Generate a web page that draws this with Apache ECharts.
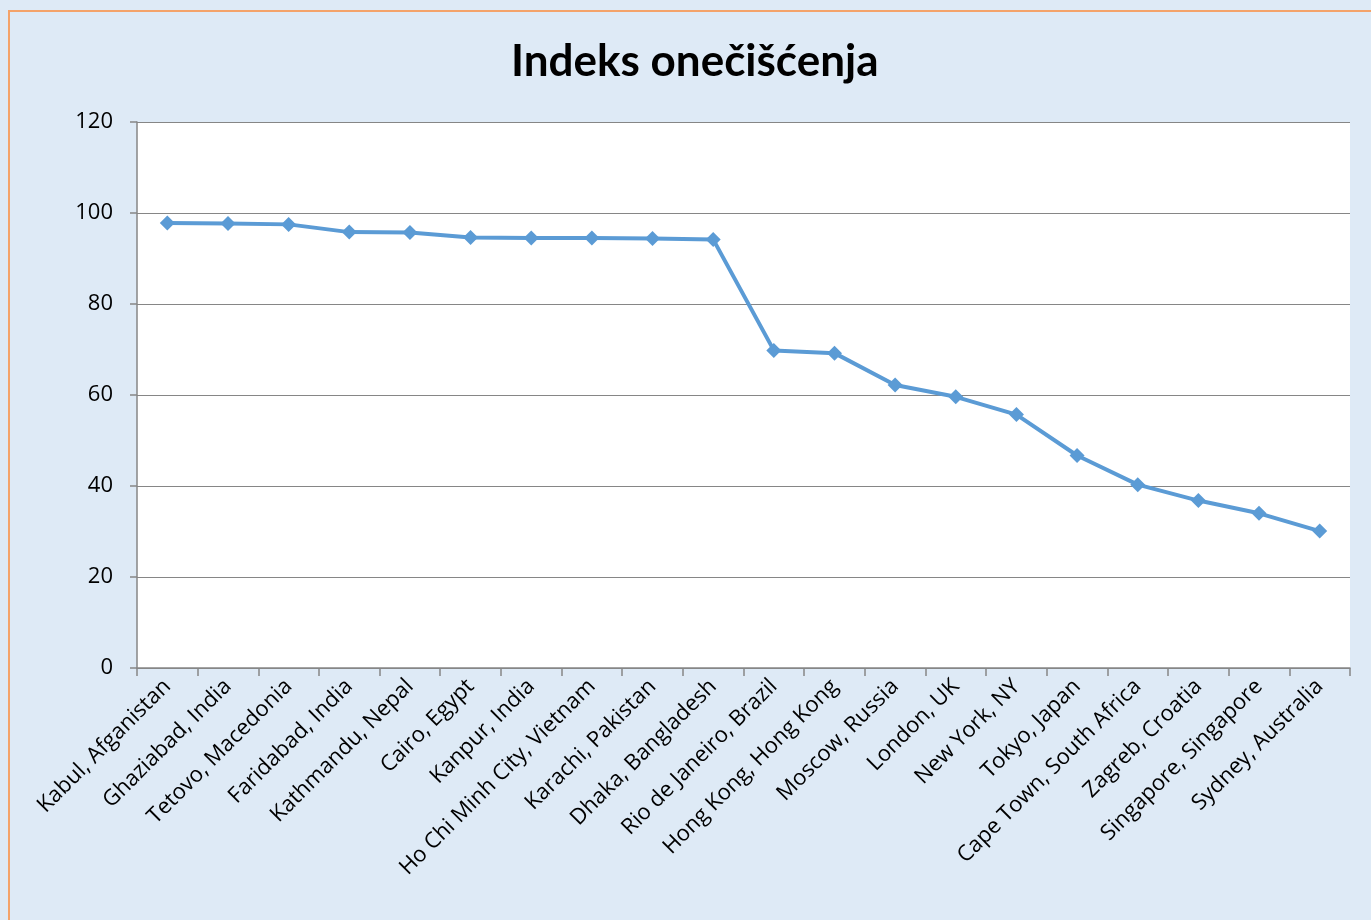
<!DOCTYPE html>
<html><head><meta charset="utf-8">
<script src="https://cdn.jsdelivr.net/npm/echarts@6/dist/echarts.min.js"></script>
<style>
html,body{margin:0;padding:0;background:#DEEAF6;width:1371px;height:920px;overflow:hidden;}
#frame{position:absolute;left:8px;top:10px;width:1380px;height:930px;border:2px solid #F4A36A;box-sizing:border-box;}
#c{position:absolute;left:0;top:0;width:1371px;height:920px;}
</style></head>
<body>
<div id="frame"></div>
<div id="c"></div>
<script>
const titleText = 'Indeks onečišćenja';
const categories = ['Kabul, Afganistan','Ghaziabad, India','Tetovo, Macedonia','Faridabad, India','Kathmandu, Nepal','Cairo, Egypt','Kanpur, India','Ho Chi Minh City, Vietnam','Karachi, Pakistan','Dhaka, Bangladesh','Rio de Janeiro, Brazil','Hong Kong, Hong Kong','Moscow, Russia','London, UK','New York, NY','Tokyo, Japan','Cape Town, South Africa','Zagreb, Croatia','Singapore, Singapore','Sydney, Australia'];
const values = [97.8,97.7,97.5,95.8,95.7,94.6,94.5,94.5,94.4,94.2,69.8,69.2,62.2,59.6,55.7,46.7,40.3,36.8,34.0,30.1];
const yMin = 0, yMax = 120, yStep = 20;

const chart = echarts.init(document.getElementById('c'), null, {renderer:'canvas'});
chart.setOption({
  animation:false,
  backgroundColor:'transparent',
  title:{text:titleText,left:506,top:35,textStyle:{fontFamily:'Lato',fontWeight:'bold',fontSize:44,color:'#000'}},
  grid:{left:137,top:122,right:21,bottom:252,show:true,backgroundColor:'#fff',borderWidth:0,containLabel:false},
  xAxis:{type:'category',data:categories,boundaryGap:true,
    axisLine:{lineStyle:{color:'#868686',width:1.5}},
    axisTick:{show:true,length:8,alignWithLabel:false,lineStyle:{color:'#868686',width:1.5}},
    axisLabel:{rotate:45,interval:0,margin:15,fontFamily:'Open Sans',fontSize:22,color:'#000'}},
  yAxis:{type:'value',min:yMin,max:yMax,interval:yStep,
    axisLine:{show:true,lineStyle:{color:'#868686',width:1.5}},
    axisTick:{show:true,length:7,lineStyle:{color:'#868686',width:1.5}},
    splitLine:{show:true,lineStyle:{color:'#868686',width:1.2}},
    axisLabel:{margin:24,fontFamily:'Open Sans',fontSize:22,color:'#000'}},
  series:[{type:'line',data:values,symbol:'diamond',symbolSize:15,
    lineStyle:{color:'#5B9BD5',width:4},itemStyle:{color:'#5B9BD5'}}]
});
</script>
</body></html>
